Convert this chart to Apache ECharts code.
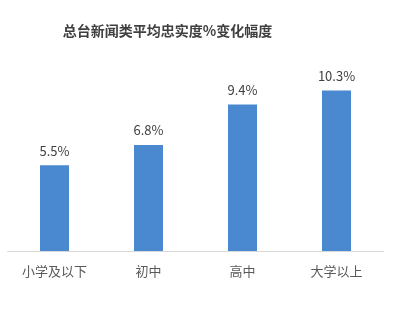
<!DOCTYPE html>
<html><head><meta charset="utf-8">
<script src="https://cdn.jsdelivr.net/npm/echarts@6/dist/echarts.min.js"></script>
<style>html,body{margin:0;padding:0;background:#fff}#c{width:396px;height:313px}</style>
</head><body><div id="c"></div>
<script>
const titleText = '总台新闻类平均忠实度%变化幅度';
const categories = ['小学及以下', '初中', '高中', '大学以上'];
const values = [5.5, 6.8, 9.4, 10.3];

const chart = echarts.init(document.getElementById('c'), null, {renderer: 'canvas'});
chart.setOption({
  animation: false,
  backgroundColor: '#fff',
  title: {
    text: titleText, left: 162.5, top: 19, textAlign: 'center',
    textStyle: {fontFamily: 'Noto Sans CJK SC', fontSize: 14, fontWeight: 'bold', color: '#404040'}
  },
  grid: {left: 7.5, right: 12.5, top: 64, bottom: 62, containLabel: false},
  xAxis: {
    type: 'category', data: categories,
    axisLine: {lineStyle: {color: '#d9d9d9', width: 1}},
    axisTick: {show: false},
    axisLabel: {margin: 14, fontFamily: 'Noto Sans CJK SC', fontSize: 13, color: '#595959'}
  },
  yAxis: {type: 'value', min: 0, max: 12, show: false, splitLine: {show: false}},
  series: [{
    type: 'bar', data: values, barWidth: 29,
    itemStyle: {color: '#4a89cf'},
    label: {show: true, position: 'top', distance: 8, formatter: p => p.value.toFixed(1) + '%',
      fontFamily: 'Noto Sans CJK SC', fontSize: 13, color: '#404040'}
  }]
});
</script></body></html>
